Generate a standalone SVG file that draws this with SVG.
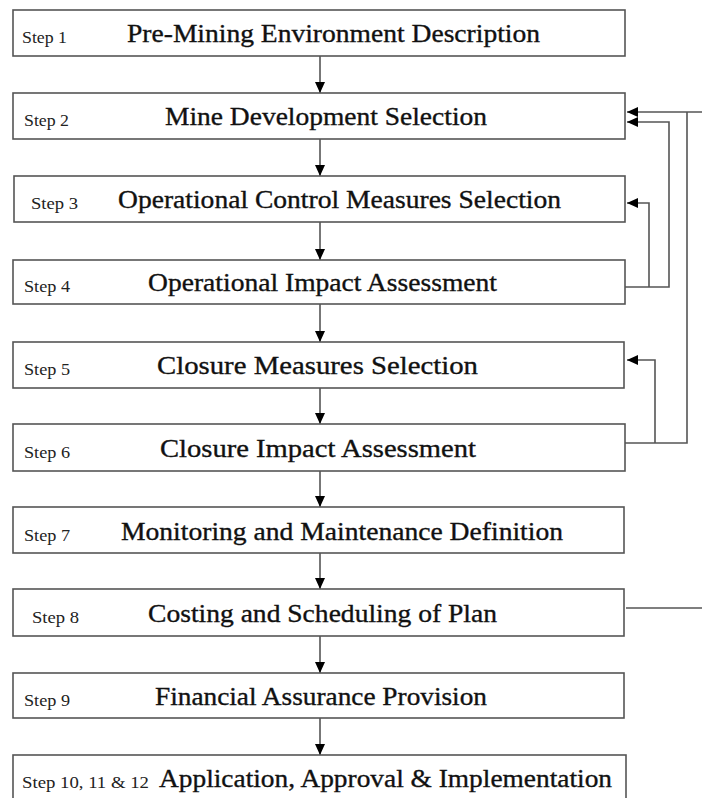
<svg xmlns="http://www.w3.org/2000/svg" width="702" height="798" viewBox="0 0 702 798">
<style>
.box{fill:#fff;stroke:#555;stroke-width:1.6}
.step{font-family:"Liberation Serif",serif;font-size:17px;fill:#222}
.title{font-family:"Liberation Serif",serif;font-size:26px;fill:#111;stroke:#111;stroke-width:0.35}
.c{fill:none;stroke:#555;stroke-width:1.6}
</style>
<defs>
<marker id="ah" markerUnits="userSpaceOnUse" markerWidth="11" markerHeight="10" refX="11" refY="5" orient="auto">
<path d="M0,0 L11,5 L0,10 z" fill="#000"/>
</marker>
</defs>
<rect width="702" height="798" fill="#fff"/>
<g id="connectors">
<line class="c" x1="320" y1="56" x2="320" y2="93" marker-end="url(#ah)"/>
<line class="c" x1="320" y1="139" x2="320" y2="176" marker-end="url(#ah)"/>
<line class="c" x1="320" y1="222" x2="320" y2="260" marker-end="url(#ah)"/>
<line class="c" x1="320" y1="304" x2="320" y2="342" marker-end="url(#ah)"/>
<line class="c" x1="320" y1="388" x2="320" y2="424" marker-end="url(#ah)"/>
<line class="c" x1="320" y1="471" x2="320" y2="507" marker-end="url(#ah)"/>
<line class="c" x1="320" y1="553" x2="320" y2="589" marker-end="url(#ah)"/>
<line class="c" x1="320" y1="636" x2="320" y2="673" marker-end="url(#ah)"/>
<line class="c" x1="320" y1="718" x2="320" y2="755" marker-end="url(#ah)"/>
<path class="c" d="M702,112 L627,112" marker-end="url(#ah)"/>
<path class="c" d="M625,443 L687,443 L687,112"/>
<path class="c" d="M625,287 L669,287 L669,122 L627,122" marker-end="url(#ah)"/>
<path class="c" d="M649,287 L649,203 L627,203" marker-end="url(#ah)"/>
<path class="c" d="M655,443 L655,360 L627,360" marker-end="url(#ah)"/>
<path class="c" d="M626,608 L702,608"/>
</g>
<g id="step1"><rect class="box" x="13" y="10" width="612" height="46"/><text class="step" x="22" y="43" textLength="45" lengthAdjust="spacingAndGlyphs">Step 1</text><text class="title" x="127" y="42" textLength="413" lengthAdjust="spacingAndGlyphs">Pre-Mining Environment Description</text></g>
<g id="step2"><rect class="box" x="13" y="93" width="612" height="46"/><text class="step" x="24" y="126" textLength="45" lengthAdjust="spacingAndGlyphs">Step 2</text><text class="title" x="165" y="125" textLength="322" lengthAdjust="spacingAndGlyphs">Mine Development Selection</text></g>
<g id="step3"><rect class="box" x="14" y="176" width="611" height="46"/><text class="step" x="31" y="209" textLength="47" lengthAdjust="spacingAndGlyphs">Step 3</text><text class="title" x="118" y="208" textLength="443" lengthAdjust="spacingAndGlyphs">Operational Control Measures Selection</text></g>
<g id="step4"><rect class="box" x="13" y="260" width="612" height="44"/><text class="step" x="24" y="292" textLength="46" lengthAdjust="spacingAndGlyphs">Step 4</text><text class="title" x="148" y="291" textLength="349" lengthAdjust="spacingAndGlyphs">Operational Impact Assessment</text></g>
<g id="step5"><rect class="box" x="13" y="342" width="611" height="46"/><text class="step" x="24" y="375" textLength="46" lengthAdjust="spacingAndGlyphs">Step 5</text><text class="title" x="157" y="374" textLength="321" lengthAdjust="spacingAndGlyphs">Closure Measures Selection</text></g>
<g id="step6"><rect class="box" x="13" y="424" width="612" height="47"/><text class="step" x="24" y="458" textLength="46" lengthAdjust="spacingAndGlyphs">Step 6</text><text class="title" x="160" y="457" textLength="316" lengthAdjust="spacingAndGlyphs">Closure Impact Assessment</text></g>
<g id="step7"><rect class="box" x="13" y="507" width="611" height="46"/><text class="step" x="24" y="541" textLength="46" lengthAdjust="spacingAndGlyphs">Step 7</text><text class="title" x="121" y="540" textLength="442" lengthAdjust="spacingAndGlyphs">Monitoring and Maintenance Definition</text></g>
<g id="step8"><rect class="box" x="13" y="589" width="611" height="47"/><text class="step" x="32" y="623" textLength="47" lengthAdjust="spacingAndGlyphs">Step 8</text><text class="title" x="148" y="622" textLength="349" lengthAdjust="spacingAndGlyphs">Costing and Scheduling of Plan</text></g>
<g id="step9"><rect class="box" x="13" y="673" width="611" height="45"/><text class="step" x="24" y="706" textLength="46" lengthAdjust="spacingAndGlyphs">Step 9</text><text class="title" x="155" y="705" textLength="332" lengthAdjust="spacingAndGlyphs">Financial Assurance Provision</text></g>
<g id="step10"><rect class="box" x="13" y="755" width="613" height="60"/><text class="step" x="22" y="788" textLength="127" lengthAdjust="spacingAndGlyphs">Step 10, 11 &amp; 12</text><text class="title" x="159" y="787" textLength="453" lengthAdjust="spacingAndGlyphs">Application, Approval &amp; Implementation</text></g>
</svg>
